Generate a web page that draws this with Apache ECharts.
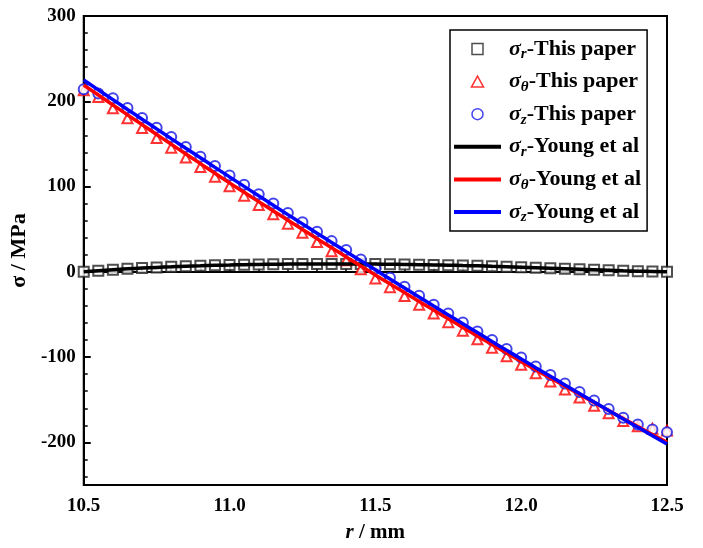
<!DOCTYPE html>
<html>
<head>
<meta charset="utf-8">
<script src="https://cdn.jsdelivr.net/npm/echarts@6/dist/echarts.min.js"></script>
<style>
  html, body { margin: 0; padding: 0; background: #fff; }
  #chart { width: 703px; height: 548px; }
</style>
</head>
<body>
<div id="chart"></div>
<script>
// r / mm, sampled every 0.05
const rValues = [10.5, 10.55, 10.6, 10.65, 10.7, 10.75, 10.8, 10.85, 10.9, 10.95,
  11.0, 11.05, 11.1, 11.15, 11.2, 11.25, 11.3, 11.35, 11.4, 11.45,
  11.5, 11.55, 11.6, 11.65, 11.7, 11.75, 11.8, 11.85, 11.9, 11.95,
  12.0, 12.05, 12.1, 12.15, 12.2, 12.25, 12.3, 12.35, 12.4, 12.45, 12.5]

// This paper (markers)
const sigmaRPaper = [0, 1.3, 2.5, 3.5, 4.4, 5.2, 5.9, 6.6, 7.1, 7.6,
  8.0, 8.4, 8.7, 8.9, 9.1, 9.2, 9.3, 9.3, 9.3, 9.2,
  9.1, 8.9, 8.7, 8.4, 8.1, 7.8, 7.4, 7.0, 6.5, 6.0,
  5.5, 4.9, 4.3, 3.7, 3.1, 2.5, 1.9, 1.3, 0.8, 0.3, 0]
const sigmaThetaPaper = [213, 205, 191.7, 180, 168.6, 157, 145.6, 134, 123, 111.6,
  100.3, 89.3, 78.3, 67.4, 56.5, 45.7, 35, 24.2, 13.5, 3,
  -7.7, -18, -28.4, -38.7, -49, -59, -69, -79, -89, -99,
  -109, -119, -128.5, -138, -147.5, -157, -166, -175, -181, -184, -186]
const sigmaZPaper = [214, 209, 203.5, 192, 180.5, 169, 158, 146.5, 135, 124,
  113, 102, 91, 80, 69, 58, 47, 36, 25.5, 14.5,
  4, -7, -17.5, -28, -38.5, -49, -59.5, -70, -80, -90.5,
  -100.5, -111, -121, -131, -141, -151, -161, -171, -179, -185, -188]

// Young et al (lines)
const sigmaRYoung = [0, 1.3, 2.5, 3.5, 4.4, 5.2, 5.9, 6.6, 7.1, 7.6,
  8.0, 8.4, 8.7, 8.9, 9.1, 9.2, 9.3, 9.3, 9.3, 9.2,
  9.1, 8.9, 8.7, 8.4, 8.1, 7.8, 7.4, 7.0, 6.5, 6.0,
  5.5, 4.9, 4.3, 3.7, 3.1, 2.5, 1.9, 1.3, 0.8, 0.3, 0]
const sigmaThetaYoung = [219, 207.3, 195.7, 184.1, 172.6, 161.1, 149.6, 138.2, 126.9, 115.6,
  104.3, 93.3, 82.3, 71.4, 60.5, 49.7, 38.9, 28.2, 17.5, 6.9,
  -3.7, -14.1, -24.4, -34.7, -44.9, -55.0, -65.2, -75.2, -85.3, -95.3,
  -105.2, -114.9, -124.5, -134.1, -143.7, -153.2, -162.6, -172.0, -181.4, -190.7, -200]
const sigmaZYoung = [225, 213.4, 201.9, 190.4, 179.0, 167.6, 156.2, 144.9, 133.7, 122.5,
  111.3, 100.2, 89.1, 78.1, 67.1, 56.2, 45.3, 34.5, 23.7, 13.0,
  2.3, -8.4, -19.0, -29.6, -40.1, -50.5, -61.0, -71.3, -81.7, -92.0,
  -102.2, -112.4, -122.5, -132.6, -142.7, -152.7, -162.6, -172.5, -182.4, -192.2, -202]

const yMajorTicks = [-200, -100, 0, 100, 200, 300]
const legendNames = ['σr-This paper', 'σθ-This paper', 'σz-This paper',
  'σr-Young et al', 'σθ-Young et al', 'σz-Young et al']

const font = 'Liberation Serif'
const pairs = ys => rValues.map((r, i) => [r, ys[i]])

// y minor ticks every 20
let yMinorTicks = []
for (let v = -240; v <= 280; v += 20) {
  if (v % 100 !== 0) yMinorTicks.push(v)
}

function scatter(name, data, symbol, color) {
  return {
    name: name,
    type: 'scatter',
    data: pairs(data),
    symbol: symbol,
    symbolSize: 10,
    itemStyle: { color: color, borderColor: color, borderWidth: 1.5 },
    z: 2
  }
}
function line(name, data, color) {
  return {
    name: name,
    type: 'line',
    data: pairs(data),
    symbol: 'none',
    smooth: true,
    lineStyle: { color: color, width: 3.5 },
    itemStyle: { color: color },
    z: 3
  }
}

// legend icons: open markers for "This paper", plain line for "Young et al"
const hollow = c => ({ color: '#fff', borderColor: c, borderWidth: 1.5 })
const noDot = { itemStyle: { opacity: 0 }, lineStyle: { width: 4 } }
const legendData = [
  { name: legendNames[0], icon: 'path://M0,0H10V10H0Z', itemStyle: hollow('#222') },
  { name: legendNames[1], icon: 'path://M5.5,0L11,10H0Z', itemStyle: hollow('#ff0000') },
  { name: legendNames[2], icon: 'path://M0,5A5,5,0,1,1,10,5A5,5,0,1,1,0,5Z', itemStyle: hollow('#1515e6') },
  Object.assign({ name: legendNames[3] }, noDot),
  Object.assign({ name: legendNames[4] }, noDot),
  Object.assign({ name: legendNames[5] }, noDot)
]

let chart = echarts.init(document.getElementById('chart'))
chart.setOption({
  animation: false,
  grid: {
    left: 83, right: 36, top: 16, bottom: 62,
    show: true, borderColor: '#000', borderWidth: 2
  },
  legend: {
    orient: 'vertical',
    left: 450, top: 30,
    data: legendData,
    itemWidth: 47,
    itemHeight: 11,
    itemGap: 8.6,
    symbolKeepAspect: true,
    padding: [8, 6, 6, 2],
    borderColor: '#000',
    borderWidth: 1.5,
    formatter: function (name) {
      let sub = name.charAt(1)
      let rest = name.slice(2)
      return '{s|σ}{sub|' + sub + '}{t|' + rest + '}'
    },
    textStyle: {
      padding: [0, 0, 0, 3],
      rich: {
        s: { fontFamily: font, fontStyle: 'italic', fontWeight: 'bold', fontSize: 22, color: '#000', lineHeight: 26, verticalAlign: 'middle' },
        sub: { fontFamily: font, fontStyle: 'italic', fontWeight: 'bold', fontSize: 15, color: '#000', lineHeight: 26, verticalAlign: 'bottom' },
        t: { fontFamily: font, fontWeight: 'bold', fontSize: 22, color: '#000', lineHeight: 26, verticalAlign: 'middle' }
      }
    }
  },
  xAxis: {
    type: 'value',
    min: 10.5, max: 12.5, interval: 0.5,
    name: '{i|r} / mm',
    nameLocation: 'middle',
    nameGap: 37,
    nameTextStyle: {
      rich: {
        i: { fontFamily: font, fontStyle: 'italic', fontWeight: 'bold', fontSize: 21, color: '#000' }
      },
      fontFamily: font, fontWeight: 'bold', fontSize: 21, color: '#000'
    },
    axisLine: { lineStyle: { color: '#000', width: 2 } },
    axisTick: { inside: true, length: 7, lineStyle: { color: '#000', width: 2 } },
    minorTick: { show: true, splitNumber: 5, length: 4, lineStyle: { color: '#000', width: 1.5 } },
    splitLine: { show: false },
    axisLabel: {
      margin: 12,
      fontFamily: font, fontWeight: 'bold', fontSize: 19, color: '#000',
      formatter: v => v.toFixed(1)
    }
  },
  yAxis: [
    {
      type: 'value',
      min: -250, max: 300,
      name: 'σ / MPa',
      nameLocation: 'middle',
      nameGap: 44,
      nameTextStyle: { fontFamily: font, fontWeight: 'bold', fontSize: 22, color: '#000' },
      axisLine: { lineStyle: { color: '#000', width: 2 } },
      axisTick: { inside: true, length: 7, customValues: yMajorTicks, lineStyle: { color: '#000', width: 2 } },
      splitLine: { show: false },
      axisLabel: {
        margin: 8,
        customValues: yMajorTicks,
        fontFamily: font, fontWeight: 'bold', fontSize: 19, color: '#000'
      }
    },
    {
      type: 'value',
      min: -250, max: 300,
      position: 'left',
      axisLine: { show: false },
      axisTick: { show: true, inside: true, length: 4, customValues: yMinorTicks, lineStyle: { color: '#000', width: 1.5 } },
      axisLabel: { show: false },
      splitLine: { show: false }
    }
  ],
  series: [
    scatter(legendNames[0], sigmaRPaper, 'emptyRect', '#222'),
    scatter(legendNames[1], sigmaThetaPaper, 'emptyTriangle', '#ff0000'),
    scatter(legendNames[2], sigmaZPaper, 'emptyCircle', '#1515e6'),
    line(legendNames[3], sigmaRYoung, '#000'),
    line(legendNames[4], sigmaThetaYoung, '#ff0000'),
    line(legendNames[5], sigmaZYoung, '#0000ff')
  ]
})
</script>
</body>
</html>
